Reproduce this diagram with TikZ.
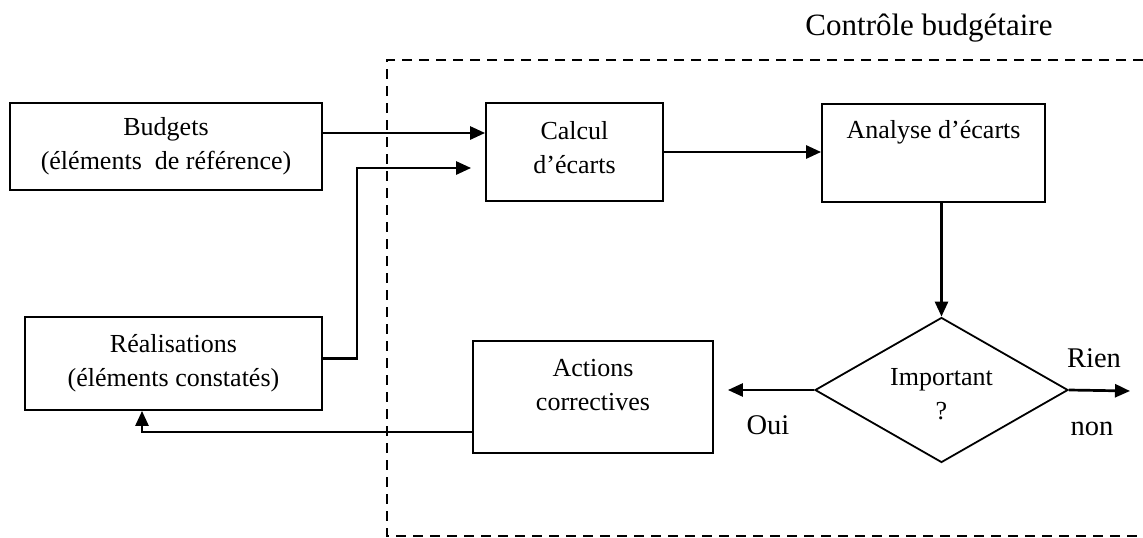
\documentclass[tikz,border=0pt]{standalone}
\usepackage{fontspec}
\setmainfont{Liberation Serif}
\usetikzlibrary{arrows.meta,shapes.geometric}
\begin{document}
\begin{tikzpicture}[x=1pt,y=-1pt,
  box/.style={draw,line width=1.8pt,inner sep=0pt,align=center,font=\fontsize{26}{34}\selectfont},
  arr/.style={line width=2.7pt,-{Triangle[length=15pt,width=13pt]}},
  lbl/.style={font=\fontsize{28.5}{34}\selectfont,inner sep=0pt},
  txt/.style={font=\fontsize{26}{34}\selectfont,align=center,inner sep=0pt}]
\useasboundingbox (0,0) rectangle (1143,538);
\fill[white] (0,0) rectangle (1143,538);
% dashed frame
\draw[line width=2.5pt,dash pattern=on 10pt off 7pt] (1143,60) -- (387,60) -- (387,536) -- (1143,536);
\node[lbl,font=\fontsize{31}{36}\selectfont] (title) at (929,28) {Contrôle budgétaire};
% boxes
\node[box,minimum width=312pt,minimum height=87pt] (bud) at (166,146.5) {Budgets\\(éléments\ \ de référence)};
\node[box,minimum width=297pt,minimum height=93pt] (real) at (173.5,363.5) {Réalisations\\(éléments constatés)};
\node[box,minimum width=177pt,minimum height=98pt] (calc) at (574.5,152) {};
\node[txt] (calct) at (574.5,148) {Calcul\\d’écarts};
\node[box,minimum width=223pt,minimum height=98pt] (anal) at (933.5,153) {};
\node[txt] (analt) at (933.5,132) {Analyse d’écarts};
\node[box,minimum width=240pt,minimum height=112pt] (act) at (593,397) {};
\node[txt] (actt) at (593,385) {Actions\\correctives};
\node[draw,diamond,line width=1.8pt,minimum width=253pt,minimum height=145pt,aspect=1.74,inner sep=0pt] (dia) at (941.5,390) {};
\node[txt] (diat) at (941.5,394) {Important\\?};
% labels
\node[lbl] (oui) at (768,425.5) {Oui};
\node[lbl] (rien) at (1094,358.5) {Rien};
\node[lbl] (non) at (1092,428.5) {non};
\coordinate (rienpt) at (1130,391);
% connectors
\draw[arr] (bud.east |- 0,133) -- (calc.west |- 0,133);
\draw[arr,shorten >=14pt] ([yshift=5pt]real.east) -- ++(34,0) |- ([yshift=-16pt]calc.west);
\draw[arr] (calc.east) -- (calc.east -| anal.west);
\draw[arr] (anal.south -| dia.north) -- (dia.north);
\draw[arr,shorten >=14pt] (dia.west) -- (dia.west -| act.east);
\draw[arr] (dia.east) -- (rienpt);
\draw[arr] ([yshift=-35pt]act.west) -| ([xshift=-31.5pt]real.south);
\end{tikzpicture}
\end{document}
